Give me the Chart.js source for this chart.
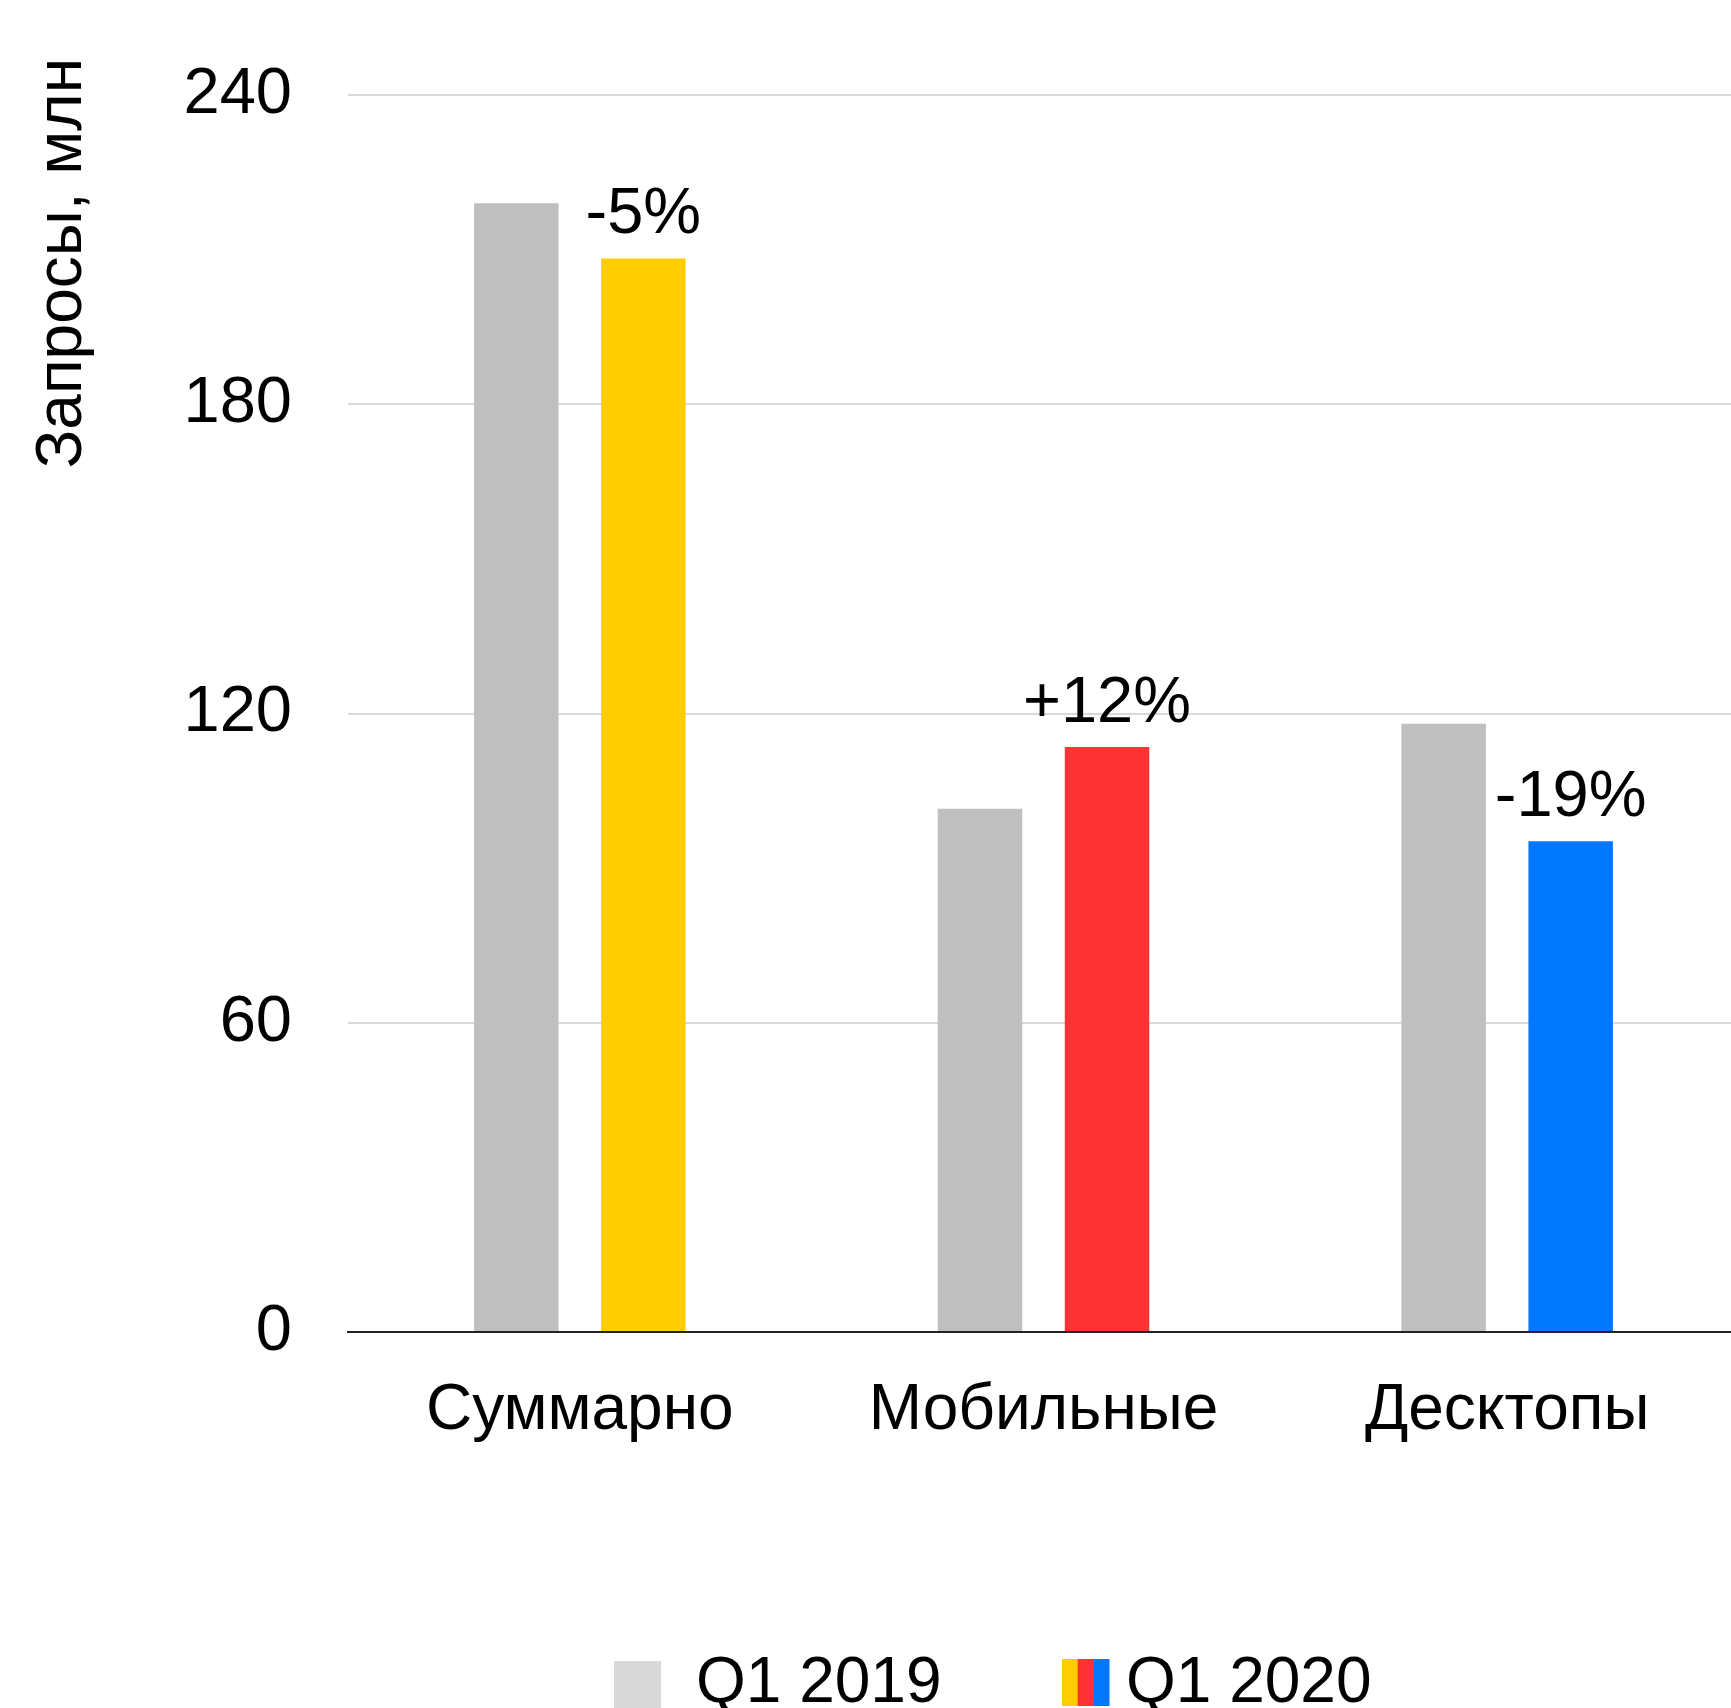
<!DOCTYPE html>
<html lang="ru">
<head>
<meta charset="utf-8">
<title>Запросы, млн</title>
<script src="https://cdn.jsdelivr.net/npm/chart.js@4.4.1/dist/chart.umd.min.js"></script>
<style>
    html, body { margin: 0; padding: 0; background: #fff; overflow: hidden; }
    #wrap { position: relative; width: 1740px; height: 1708px; }
</style>
</head>
<body>
<div id="wrap"><canvas id="queriesChart"></canvas></div>
<script>
/* =========================
    Data
========================= */
const categories = ['Суммарно', 'Мобильные', 'Десктопы'];
const q2019Values = [219, 101.5, 118];
const q2020Values = [208.3, 113.5, 95.2];
const changeLabels = ['-5%', '+12%', '-19%'];
const yTickValues = [0, 60, 120, 180, 240];
const seriesNames = ['Q1 2019', 'Q1 2020'];

const axisTitle = 'Запросы, млн';
const grayColor = '#bfbfbf';
const legendGray = '#d9d9d9';
const colors2020 = ['#ffcc00', '#ff3333', '#0077ff'];
const FONT = "'Liberation Sans', Arial, sans-serif";

Chart.defaults.font.family = FONT;
Chart.defaults.color = '#000';

/* =========================
    Plugins: labels, axis title, legend
========================= */
const changeLabelPlugin = {
    id: 'changeLabels',
    afterDatasetsDraw(chart) {
        const ctx = chart.ctx;
        const meta = chart.getDatasetMeta(1);
        ctx.save();
        ctx.font = `65px ${FONT}`;
        ctx.fillStyle = '#000';
        ctx.textAlign = 'center';
        ctx.textBaseline = 'alphabetic';
        meta.data.forEach((bar, i) => {
            ctx.fillText(changeLabels[i], bar.x, bar.y - 25);
        });
        ctx.restore();
    }
};

const axisTitlePlugin = {
    id: 'axisTitle',
    afterDraw(chart) {
        const ctx = chart.ctx;
        ctx.save();
        ctx.font = `64px ${FONT}`;
        ctx.fillStyle = '#000';
        ctx.translate(81, chart.chartArea.top - 37);
        ctx.rotate(-Math.PI / 2);
        ctx.textAlign = 'right';
        ctx.textBaseline = 'alphabetic';
        ctx.fillText(axisTitle, 0, 0);
        ctx.restore();
    }
};

const legendPlugin = {
    id: 'stripedLegend',
    afterDraw(chart) {
        const ctx = chart.ctx;
        const box = 47;
        ctx.save();
        // Q1 2019
        ctx.fillStyle = legendGray;
        ctx.fillRect(614, 1661, box, box);
        // Q1 2020: three stripes
        const stripe = box / colors2020.length;
        colors2020.forEach((c, i) => {
            ctx.fillStyle = c;
            ctx.fillRect(1062 + i * stripe, 1659, stripe + 0.5, box);
        });
        ctx.font = `64px ${FONT}`;
        ctx.fillStyle = '#000';
        ctx.textAlign = 'left';
        ctx.textBaseline = 'alphabetic';
        ctx.fillText(seriesNames[0], 696, 1702);
        ctx.fillText(seriesNames[1], 1126, 1702);
        ctx.restore();
    }
};

/* =========================
    Chart
========================= */
const ctx = document.getElementById('queriesChart').getContext('2d');
new Chart(ctx, {
    type: 'bar',
    data: {
        labels: categories,
        datasets: [
            {
                label: seriesNames[0],
                data: q2019Values,
                backgroundColor: grayColor,
                borderWidth: 0,
                categoryPercentage: 0.548,
                barPercentage: 0.665
            },
            {
                label: seriesNames[1],
                data: q2020Values,
                backgroundColor: colors2020,
                borderWidth: 0,
                categoryPercentage: 0.548,
                barPercentage: 0.665
            }
        ]
    },
    options: {
        responsive: true,
        maintainAspectRatio: false,
        animation: false,
        layout: { padding: { top: 91, right: 1, bottom: 0, left: 0 } },
        plugins: {
            legend: { display: false },
            tooltip: { enabled: false }
        },
        scales: {
            x: {
                grid: { display: false, drawTicks: false },
                border: { display: true, color: '#222', width: 2 },
                ticks: { font: { size: 64 }, color: '#000', padding: 41 },
                afterFit: s => { s.height = 376; }
            },
            y: {
                min: 0,
                max: 240,
                afterBuildTicks: s => { s.ticks = yTickValues.map(v => ({ value: v })); },
                grid: {
                    drawTicks: false,
                    color: c => (c.tick && c.tick.value === 0) ? '#222' : '#d9d9d9',
                    lineWidth: 2
                },
                border: { display: false },
                ticks: { font: { size: 65 }, color: '#000', padding: 56 },
                afterFit: s => { s.width = 348; }
            }
        }
    },
    plugins: [changeLabelPlugin, axisTitlePlugin, legendPlugin]
});
</script>
</body>
</html>
